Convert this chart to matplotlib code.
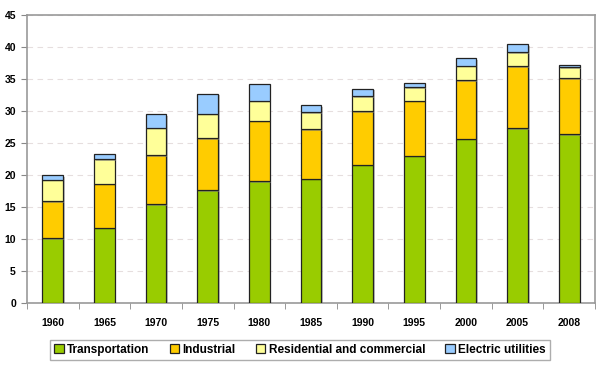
import matplotlib
matplotlib.use("Agg")
import matplotlib.pyplot as plt
import matplotlib.patheffects as pe
import numpy as np

years = ["1960", "1965", "1970", "1975", "1980", "1985", "1990", "1995", "2000", "2005", "2008"]
transportation = [10.1, 11.8, 15.4, 17.6, 19.0, 19.45, 21.6, 23.0, 25.7, 27.3, 26.4]
industrial = [5.8, 6.85, 7.7, 8.2, 9.5, 7.75, 8.35, 8.6, 9.1, 9.7, 8.7]
residential = [3.4, 3.8, 4.3, 3.8, 3.1, 2.6, 2.35, 2.1, 2.3, 2.2, 1.7]
electric = [0.65, 0.85, 2.1, 3.1, 2.6, 1.1, 1.2, 0.7, 1.2, 1.2, 0.45]

series = [("Transportation", transportation, "#99CC00"),
          ("Industrial", industrial, "#FFCC00"),
          ("Residential and commercial", residential, "#FFFF99"),
          ("Electric utilities", electric, "#99CCFF")]

plt.rcParams['font.family'] = ['Liberation Sans', 'DejaVu Sans']
fig = plt.figure(figsize=(6, 3.66), dpi=100)
ax = fig.add_axes([0.045, 0.172, 0.9467, 0.787])

x = np.arange(len(years))
bottom = np.zeros(len(years))
handles = []
for name, vals, col in series:
    h = ax.bar(x, vals, width=0.4, bottom=bottom, color=col, edgecolor="#222222",
               linewidth=0.9, label=name, zorder=3)
    for p in h.patches:
        p.set_path_effects([pe.SimplePatchShadow(offset=(1.2, -1.2), shadow_rgbFace="#888888", alpha=0.5),
                            pe.Normal()])
    handles.append(h)
    bottom = bottom + np.array(vals)

ax.set_xlim(-0.5, len(years) - 0.5)
ax.set_ylim(0, 45)
ax.set_yticks(np.arange(0, 46, 5))
ax.set_xticks(x)
ax.set_xticklabels(years)
ax.set_xticks(np.arange(-0.5, len(years), 1), minor=True)
ax.tick_params(axis='x', which='major', length=0, pad=11, labelsize=7.5)
ax.tick_params(axis='x', which='minor', length=4, color="#888888", direction='out')
ax.tick_params(axis='y', length=4, color="#888888", labelsize=7.5, pad=4)
for lab in ax.get_xticklabels() + ax.get_yticklabels():
    lab.set_fontweight('bold')

ax.grid(axis='y', linestyle=(0, (5, 4)), color="#e6dede", linewidth=0.8, zorder=0)
for s in ax.spines.values():
    s.set_color("#999999")
    s.set_linewidth(1.2)

leg = fig.legend(handles=handles, loc='center', bbox_to_anchor=(0.5, 0.044), ncol=4,
                 frameon=True, fancybox=False, edgecolor="#999999",
                 prop={'weight': 'bold', 'size': 8.5}, handlelength=0.8, handleheight=0.8,
                 handletextpad=0.3, columnspacing=1.7, borderpad=0.35)
leg.get_frame().set_linewidth(1.0)
for h in leg.legend_handles:
    h.set_path_effects([])

fig.savefig("out.png", dpi=100)
